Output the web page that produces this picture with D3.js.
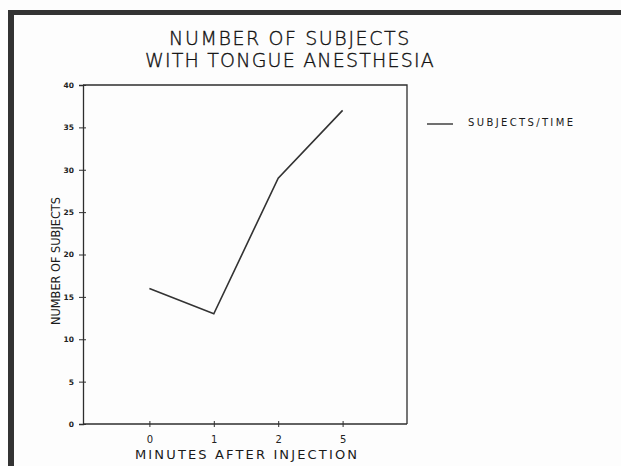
<!DOCTYPE html>
<html><head><meta charset="utf-8">
<script src="https://cdn.jsdelivr.net/npm/d3@7"></script>
<style>body{margin:0;background:#fff}svg{display:block}text{font-family:"DejaVu Sans",sans-serif;fill:#1e1e1e}</style>
</head><body>
<script>
const categories = ["0","1","2","5"];
const subjects = [16, 13, 29, 37];
const yTicks = [0,5,10,15,20,25,30,35,40];
const titleLines = ["NUMBER OF SUBJECTS","WITH TONGUE ANESTHESIA"];
const xLabel = "MINUTES AFTER INJECTION";
const yLabel = "NUMBER OF SUBJECTS";
const legendLabel = "SUBJECTS/TIME";

const W=621,H=466, ink="#2e2e2e";
const svg=d3.select("body").append("svg").attr("width",W).attr("height",H);
svg.append("rect").attr("width",W).attr("height",H).attr("fill","#fdfdfd");
// frame
svg.append("line").attr("x1",8).attr("x2",W).attr("y1",12.5).attr("y2",12.5).attr("stroke","#333").attr("stroke-width",5);
svg.append("line").attr("x1",11).attr("x2",11).attr("y1",10).attr("y2",H).attr("stroke","#333").attr("stroke-width",6);

const L=83,R=407,T=85,B=424;
const x=d3.scalePoint().domain(categories).range([L+2,R]).padding(1);
const y=d3.scaleLinear().domain([0,40]).range([B,T]);

// title
svg.selectAll("text.title").data(titleLines).join("text").attr("class","title")
  .attr("x",290).attr("y",(d,i)=>45+i*22).attr("text-anchor","middle")
  .attr("font-size",19).attr("font-weight",200).attr("letter-spacing",(d,i)=>i?1.2:1.6)
  .style("fill","#111").style("stroke","#111").style("stroke-width",0.35).text(d=>d);

// box
svg.append("path").attr("d",`M${L},${T}H${R}V${B}`).attr("fill","none").attr("stroke",ink).attr("stroke-width",1.3);

const ya=svg.append("g").attr("transform",`translate(${L},0)`).call(d3.axisLeft(y).tickValues(yTicks).tickSize(4).tickPadding(5));
ya.select(".domain").attr("stroke",ink).attr("stroke-width",1.3);
ya.selectAll(".tick line").attr("x1",3).attr("stroke",ink);
ya.selectAll(".tick text").attr("font-size",7.5).attr("font-weight","bold").style("fill","#222").attr("font-family","DejaVu Sans");

const xa=svg.append("g").attr("transform",`translate(0,${B})`).call(d3.axisBottom(x).tickSize(3).tickPadding(9));
xa.select(".domain").attr("stroke",ink).attr("stroke-width",1.3).attr("d",`M${L},0H${R}`);
xa.selectAll(".tick line").attr("y1",-3).attr("stroke",ink);
xa.selectAll(".tick text").attr("font-size",10).attr("font-weight",400).style("fill","#222").attr("font-family","DejaVu Sans");

// line
const line=d3.line().x((d,i)=>x(categories[i])).y(d=>y(d));
svg.append("path").datum(subjects).attr("d",line).attr("fill","none").attr("stroke","#333").attr("stroke-width",1.6);

// axis labels
svg.append("text").attr("x",246).attr("y",459).attr("text-anchor","middle").attr("font-size",13)
  .attr("font-weight",400).attr("textLength",222).attr("lengthAdjust","spacing").style("fill","#1a1a1a").text(xLabel);
svg.append("text").attr("transform","translate(60,261) rotate(-90)").attr("text-anchor","middle")
  .attr("font-size",13).attr("textLength",128).attr("lengthAdjust","spacingAndGlyphs").attr("font-weight",400).style("fill","#1a1a1a").text(yLabel);

// legend
svg.append("line").attr("x1",427).attr("x2",453).attr("y1",124).attr("y2",124).attr("stroke","#333").attr("stroke-width",1.4);
svg.append("text").attr("x",468).attr("y",126).attr("font-size",10).attr("font-weight",400).attr("textLength",105).attr("lengthAdjust","spacing").style("fill","#1a1a1a").text(legendLabel);
</script>
</body></html>
